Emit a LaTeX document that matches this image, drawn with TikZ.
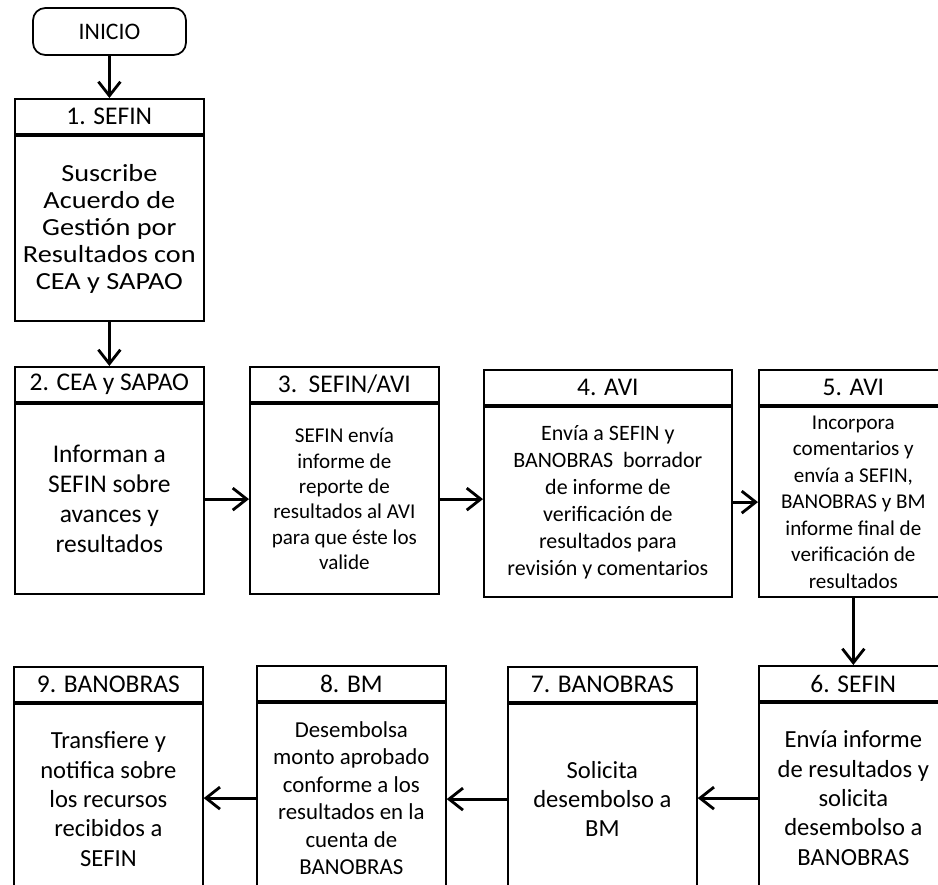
\documentclass[tikz,border=0pt]{standalone}
\usepackage{fontspec}
\setmainfont{Carlito}
\newfontfamily\widefont{Carlito}[FakeStretch=1.15]
\usepackage{tikz}
\usetikzlibrary{arrows,arrows.meta,positioning}
\newcommand{\fsz}[2]{\fontsize{#1}{#2}\selectfont}
\tikzset{
  flowedge/.style = {black, ->, >={Straight Barb[length=2.8mm,width=4.4mm]}, line width=1.6pt},
  startbox/.style = {draw, rounded corners=7pt, line width=1pt, minimum width=3.06cm, minimum height=0.94cm, font=\fsz{13.5}{15}},
  headbox/.style  = {draw, line width=1pt, minimum width=3.78cm, minimum height=0.71cm, inner sep=0pt, anchor=north west, font=\fsz{14.5}{15}},
  bodybox/.style  = {draw, line width=1pt, minimum width=3.78cm, minimum height=3.8cm, inner sep=0pt, align=center},
}

\begin{document}
\begin{tikzpicture}[x=0.02cm,y=-0.02cm,auto]
      \useasboundingbox (0,0) rectangle (938,885);
      \node[startbox] (inicio) at (109.5,31.5) {INICIO};

      % row 1
      \node[headbox] (h1) at (14,98) {1. SEFIN};
      \node[bodybox, below=0pt of h1, minimum height=3.7cm, font=\widefont\fsz{14}{15.4}] (b1)
        {Suscribe\\Acuerdo de\\Gestión por\\Resultados con\\CEA y SAPAO};

      % row 2
      \node[headbox] (h2) at (14,366) {2. CEA y SAPAO};
      \node[bodybox, below=0pt of h2, font=\fsz{14.5}{17}] (b2)
        {Informan a\\SEFIN sobre\\avances y\\resultados};
      \node[headbox] (h3) at (249,366) {3.\ \ SEFIN/AVI};
      \node[bodybox, below=0pt of h3, font=\fsz{12}{14.5}] (b3)
        {SEFIN envía\\informe de\\reporte de\\resultados al AVI\\para que éste los\\valide};
      \node[headbox, minimum width=4.96cm] (h4) at (483,369) {4. AVI};
      \node[bodybox, below=0pt of h4, minimum width=4.96cm, font=\fsz{12.5}{15.4}] (b4)
        {Envía a SEFIN y\\BANOBRAS\ \ borrador\\de informe de\\verificación de\\resultados para\\revisión y comentarios};
      \node[headbox] (h5) at (758,369) {5. AVI};
      \node[bodybox, below=0pt of h5, font=\fsz{12}{15.1}] (b5)
        {Incorpora\\comentarios y\\envía a SEFIN,\\BANOBRAS y BM\\informe final de\\verificación de\\resultados};

      % row 3
      \node[headbox] (h6) at (758,665) {6. SEFIN};
      \node[bodybox, below=0pt of h6, font=\fsz{14}{16.7}] (b6)
        {Envía informe\\de resultados y\\solicita\\desembolso a\\BANOBRAS};
      \node[headbox] (h7) at (507,666) {7. BANOBRAS};
      \node[bodybox, below=0pt of h7, font=\fsz{14}{16.7}] (b7)
        {Solicita\\desembolso a\\BM};
      \node[headbox] (h8) at (256,665) {8. BM};
      \node[bodybox, below=0pt of h8, font=\fsz{13}{15.6}] (b8)
        {Desembolsa\\monto aprobado\\conforme a los\\resultados en la\\cuenta de\\BANOBRAS};
      \node[headbox] (h9) at (13,666) {9. BANOBRAS};
      \node[bodybox, below=0pt of h9, font=\fsz{14}{16.7}] (b9)
        {Transfiere y\\notifica sobre\\los recursos\\recibidos a\\SEFIN};

      \path (inicio) edge[flowedge] (h1);
      \path (b1) edge[flowedge] (h2);
      \path (b2.east) edge[flowedge] (b2.east -| b3.west);
      \path (b3.east) edge[flowedge] (b3.east -| b4.west);
      \path (b4.east) edge[flowedge] (b4.east -| b5.west);
      \path (b5) edge[flowedge] (h6);
      \path (b6.west) edge[flowedge] (b6.west -| b7.east);
      \path (b7.west) edge[flowedge] (b7.west -| b8.east);
      \path (b8.west) edge[flowedge] (b8.west -| b9.east);
\end{tikzpicture}
\end{document}
